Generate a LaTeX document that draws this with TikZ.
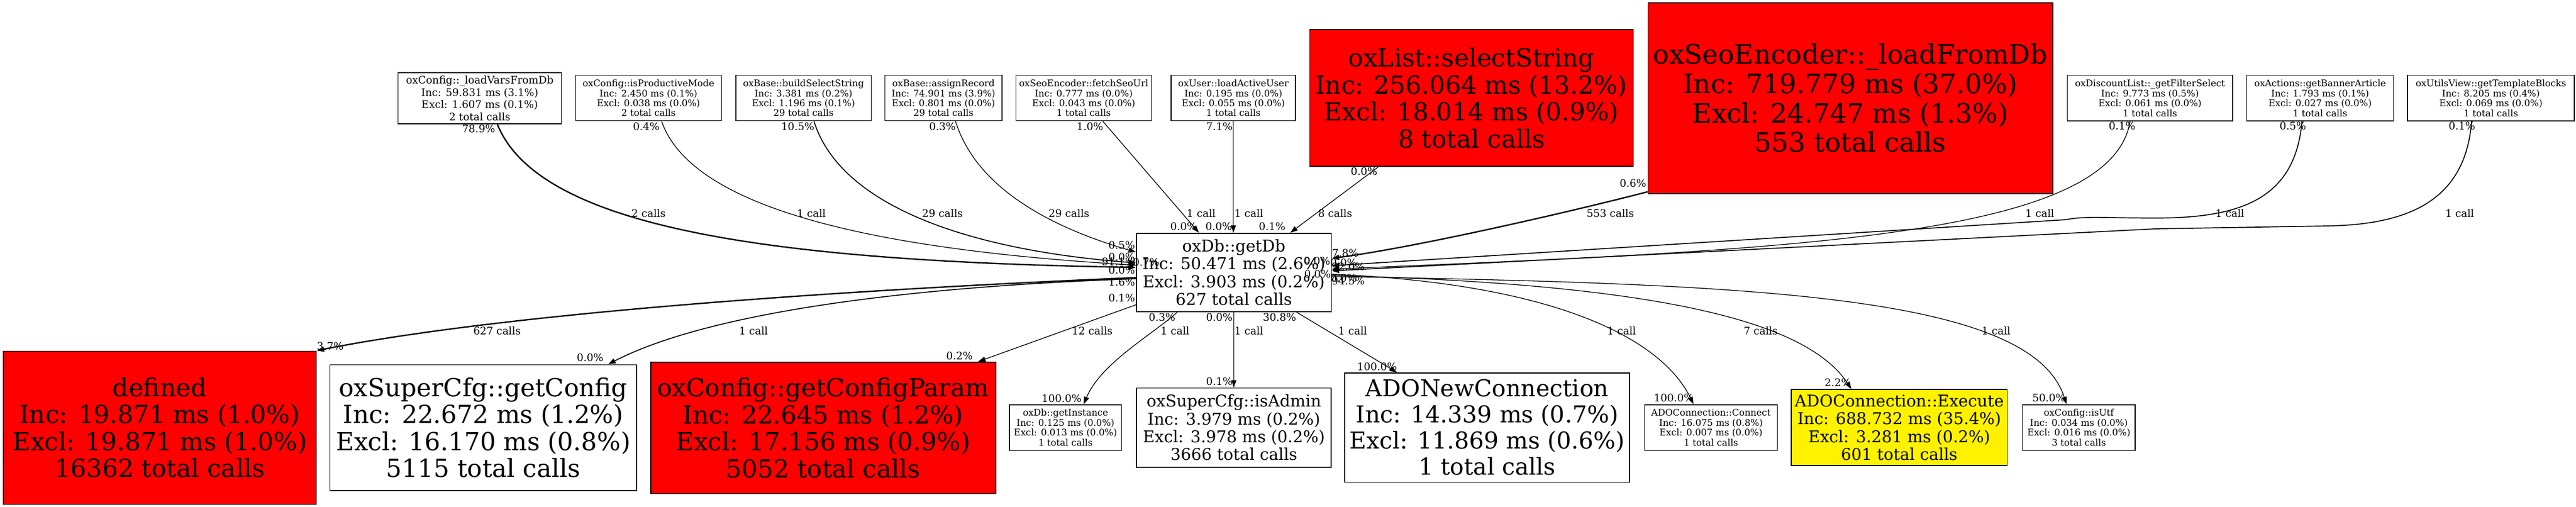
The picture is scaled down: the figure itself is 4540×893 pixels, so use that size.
\documentclass[tikz,border=0pt]{standalone}
\usepackage{fontspec}
\setmainfont{DejaVu Serif}
\usetikzlibrary{arrows.meta}
\newcommand\fsz[2]{\fontsize{#1pt}{#2pt}\selectfont}
\begin{document}
\begin{tikzpicture}[x=1pt,y=-1pt,
  nbox/.style={draw=black,line width=1.6pt,inner sep=0pt,align=center},
  hot/.style={nbox,fill=red},
  warm/.style={nbox,fill=yellow},
  fsmall/.style={font=\fsz{16.2}{17.4}},
  fA/.style={font=\fsz{18.3}{21.5}},
  fmid/.style={font=\fsz{28.6}{31.3}},
  fbig/.style={font=\fsz{43.8}{47.5}},
  fhuge/.style={font=\fsz{47}{51.7}},
  fado/.style={font=\fsz{41}{46}},
  elab/.style={inner sep=0pt,font=\fsz{18.4}{20}},
  call/.style={line width=1.3pt,-{Triangle[length=13pt,width=9pt]}},
  heavy/.style={call,line width=2.4pt},
]
\fill[white] (0,0) rectangle (4540,893);
\useasboundingbox (0,0) rectangle (4540,893);

% top row
\node[nbox,fA,minimum width=288.1pt,minimum height=90pt] (A) at (845.55,173.3) {oxConfig::\_loadVarsFromDb\\Inc: 59.831 ms (3.1\%)\\Excl: 1.607 ms (0.1\%)\\2 total calls};
\node[nbox,fsmall,minimum width=257.2pt,minimum height=80pt] (B) at (1142.9,172.7) {oxConfig::isProductiveMode\\Inc: 2.450 ms (0.1\%)\\Excl: 0.038 ms (0.0\%)\\2 total calls};
\node[nbox,fsmall,minimum width=238.8pt,minimum height=80pt] (C) at (1416.1,172.7) {oxBase::buildSelectString\\Inc: 3.381 ms (0.2\%)\\Excl: 1.196 ms (0.1\%)\\29 total calls};
\node[nbox,fsmall,minimum width=206.3pt,minimum height=80pt] (D) at (1662.75,172.7) {oxBase::assignRecord\\Inc: 74.901 ms (3.9\%)\\Excl: 0.801 ms (0.0\%)\\29 total calls};
\node[nbox,fsmall,minimum width=238.7pt,minimum height=80pt] (E) at (1909.95,172.7) {oxSeoEncoder::fetchSeoUrl\\Inc: 0.777 ms (0.0\%)\\Excl: 0.043 ms (0.0\%)\\1 total calls};
\node[nbox,fsmall,minimum width=219pt,minimum height=80pt] (F) at (2173.7,172.7) {oxUser::loadActiveUser\\Inc: 0.195 ms (0.0\%)\\Excl: 0.055 ms (0.0\%)\\1 total calls};
\node[hot,fbig,minimum width=570.1pt,minimum height=241pt] (G) at (2593.35,172.8) {oxList::selectString\\Inc: 256.064 ms (13.2\%)\\Excl: 18.014 ms (0.9\%)\\8 total calls};
\node[hot,fhuge,minimum width=713.4pt,minimum height=335.7pt] (H) at (3261.2,172.85) {oxSeoEncoder::\_loadFromDb\\Inc: 719.779 ms (37.0\%)\\Excl: 24.747 ms (1.3\%)\\553 total calls};
\node[nbox,fsmall,minimum width=291.6pt,minimum height=80.6pt] (I) at (3789.2,173) {oxDiscountList::\_getFilterSelect\\Inc: 9.773 ms (0.5\%)\\Excl: 0.061 ms (0.0\%)\\1 total calls};
\node[nbox,fsmall,minimum width=259pt,minimum height=80.6pt] (J) at (4089,173) {oxActions::getBannerArticle\\Inc: 1.793 ms (0.1\%)\\Excl: 0.027 ms (0.0\%)\\1 total calls};
\node[nbox,fsmall,minimum width=294pt,minimum height=80.6pt] (K) at (4390,173) {oxUtilsView::getTemplateBlocks\\Inc: 8.205 ms (0.4\%)\\Excl: 0.069 ms (0.0\%)\\1 total calls};

% centre
\node[nbox,fmid,minimum width=343.6pt,minimum height=138.3pt] (Z) at (2174.5,479.85) {oxDb::getDb\\Inc: 50.471 ms (2.6\%)\\Excl: 3.903 ms (0.2\%)\\627 total calls};

% bottom row
\node[hot,fbig,minimum width=551.5pt,minimum height=270pt] (L) at (281.65,753.3) {defined\\Inc: 19.871 ms (1.0\%)\\Excl: 19.871 ms (1.0\%)\\16362 total calls};
\node[nbox,fbig,minimum width=540.4pt,minimum height=221.7pt] (M) at (851.8,753.15) {oxSuperCfg::getConfig\\Inc: 22.672 ms (1.2\%)\\Excl: 16.170 ms (0.8\%)\\5115 total calls};
\node[hot,fbig,minimum width=608.3pt,minimum height=231.6pt] (N) at (1450.85,753.5) {oxConfig::getConfigParam\\Inc: 22.645 ms (1.2\%)\\Excl: 17.156 ms (0.9\%)\\5052 total calls};
\node[nbox,fsmall,minimum width=197.6pt,minimum height=80.6pt] (O) at (1877.8,753) {oxDb::getInstance\\Inc: 0.125 ms (0.0\%)\\Excl: 0.013 ms (0.0\%)\\1 total calls};
\node[nbox,fmid,minimum width=343pt,minimum height=139.4pt] (P) at (2174.65,753) {oxSuperCfg::isAdmin\\Inc: 3.979 ms (0.2\%)\\Excl: 3.978 ms (0.2\%)\\3666 total calls};
\node[nbox,fado,minimum width=502pt,minimum height=192.6pt] (Q) at (2621,753) {ADONewConnection\\Inc: 14.339 ms (0.7\%)\\Excl: 11.869 ms (0.6\%)\\1 total calls};
\node[nbox,fsmall,minimum width=233.9pt,minimum height=80.6pt] (R) at (3015.45,753) {ADOConnection::Connect\\Inc: 16.075 ms (0.8\%)\\Excl: 0.007 ms (0.0\%)\\1 total calls};
\node[warm,fmid,minimum width=380.6pt,minimum height=134pt] (S) at (3347.3,753) {ADOConnection::Execute\\Inc: 688.732 ms (35.4\%)\\Excl: 3.281 ms (0.2\%)\\601 total calls};
\node[nbox,fsmall,minimum width=198.4pt,minimum height=80.6pt] (T) at (3663.8,753) {oxConfig::isUtf\\Inc: 0.034 ms (0.0\%)\\Excl: 0.016 ms (0.0\%)\\3 total calls};

% incoming edges
\draw[heavy] ([xshift=31.05pt]A.south) .. controls (950,400) and (1350,460) .. ([yshift=8.85pt]Z.west);
\draw[call] ([xshift=23.1pt]B.south) .. controls (1220,370) and (1550,440) .. ([yshift=12.85pt]Z.west);
\draw[call,line width=1.7pt] ([xshift=18.5pt]C.south) .. controls (1480,360) and (1700,440) .. ([yshift=16.85pt]Z.west);
\draw[call] ([xshift=21.25pt]D.south) .. controls (1720,330) and (1850,400) .. ([yshift=35.85pt]Z.west);
\draw[call] ([xshift=33.55pt]E.south) -- ([xshift=-61.5pt]Z.north);
\draw[call] (F.south) -- (F.south |- Z.north);
\draw[call] ([xshift=-164.35pt]G.south) -- ([xshift=99.5pt]Z.north);
\draw[heavy] ([yshift=3.7pt]H.south west) .. controls (2780,370) and (2500,435) .. ([yshift=24.85pt]Z.east);
\draw[call] ([xshift=-35.2pt]I.south) .. controls (3720,420) and (3150,440) .. ([yshift=5.85pt]Z.east);
\draw[call,line width=1.7pt] ([xshift=-32pt]J.south) .. controls (4045,350) and (3950,384) .. (3800,384) .. controls (3700,384) and (3680,380) .. (3640,387) -- ([yshift=11.85pt]Z.east);
\draw[call,line width=1.7pt] ([xshift=-34pt]K.south) .. controls (4345,350) and (4250,396) .. (4100,398) -- (3800,403) -- ([yshift=2.85pt]Z.east);

% outgoing edges
\draw[heavy] ([yshift=-9.15pt]Z.west) .. controls (1500,510) and (900,550) .. (L.north east);
\draw[call,line width=1.7pt] ([yshift=-11.15pt]Z.west) .. controls (1600,505) and (1250,550) .. ([xshift=220.2pt]M.north);
\draw[call] ([yshift=-57pt]Z.west) -- ([xshift=273.15pt]N.north);
\draw[call] ([xshift=-99.5pt]Z.south) .. controls (2030,590) and (1940,640) .. ([xshift=32.2pt]O.north);
\draw[call] (Z.south) -- (Z.south |- P.north);
\draw[call] ([xshift=110.5pt]Z.south) -- ([xshift=-159pt]Q.north);
\draw[call] ([yshift=-3.15pt]Z.east) .. controls (2750,500) and (2930,600) .. ([xshift=-30.75pt]R.north);
\draw[call] ([yshift=-5.15pt]Z.east) .. controls (2900,500) and (3180,560) .. ([xshift=-84.5pt]S.north);
\draw[call] ([yshift=-7.15pt]Z.east) .. controls (3100,500) and (3580,520) .. ([xshift=-21.8pt]T.north);

% edge labels
\foreach \x/\y/\t [count=\i] in {
 843.5/226.7/78.9\%, 1139/223/0.4\%, 1406/223/10.5\%, 1661/223/0.3\%, 1921/223/1.0\%, 2149/223/7.1\%,
 2404/302/0.0\%, 2878/323/0.6\%, 3740/222/0.1\%, 4041/222/0.5\%, 4339/222/0.1\%,
 1143/376/2 calls, 1430/376/1 call, 1661/376/29 calls, 1884/376/29 calls, 2117/376/1 call, 2201/376/1 call,
 2353/376/8 calls, 2838/376/553 calls, 3595/376/1 call, 3930/376/1 call, 4335/376/1 call,
 2086/399/0.0\%, 2148/399/0.0\%, 2242/399/0.1\%,
 1977/432/0.5\%, 1977/453/0.0\%, 1971/461/91.1\%, 2020/462/0.7\%, 1977/476/0.0\%, 1977/497/1.6\%, 1977/525/0.1\%,
 2371/446/7.8\%, 2321/460/0.0\%, 2368/463/0.0\%, 2376/470/92.0\%, 2322/483/0.0\%, 2368/490/0.0\%, 2376/495/94.5\%,
 2048/559/0.3\%, 2149/559/0.0\%, 2255/559/30.8\%,
 876/583/627 calls, 1328/583/1 call, 1925/583/12 calls, 2071/583/1 call, 2201/583/1 call, 2384/583/1 call,
 2858/583/1 call, 3103/583/7 calls, 3518/583/1 call,
 582/610/3.7\%, 1040/630/0.0\%, 1691/627/0.2\%, 1871/702/100.0\%, 2149/672/0.1\%, 2427/646/100.0\%,
 2950/701/100.0\%, 3239/674/2.2\%, 3611/701/50.0\%}
 {\node[elab] (lab\i) at (\x,\y) {\t};}
\end{tikzpicture}
\end{document}
